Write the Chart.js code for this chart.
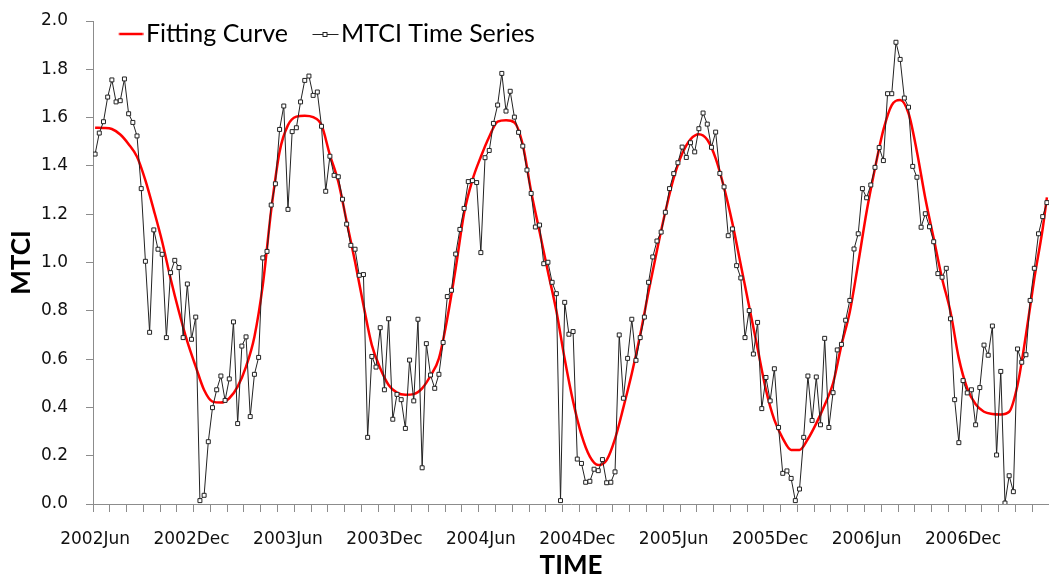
<!DOCTYPE html>
<html>
<head>
<meta charset="utf-8">
<script src="https://cdn.jsdelivr.net/npm/chart.js@4.4.1/dist/chart.umd.min.js"></script>
<style>
  html, body { margin: 0; padding: 0; background: #ffffff; }
  #wrap { width: 1049px; height: 579px; position: relative; }
</style>
</head>
<body>
<div id="wrap"><canvas id="c" width="1049" height="579"></canvas></div>
<script>
// ---------------- DATA ----------------
// MTCI 8-day composite time series, starting 2002Jun
const mtciValues = [
  1.449, 1.536, 1.583, 1.685, 1.756, 1.665, 1.670, 1.760, 1.616, 1.580,
  1.524, 1.306, 1.005, 0.711, 1.135, 1.055, 1.034, 0.689, 0.958, 1.009,
  0.979, 0.689, 0.911, 0.682, 0.774, 0.014, 0.036, 0.258, 0.399, 0.473,
  0.530, 0.429, 0.518, 0.754, 0.333, 0.654, 0.692, 0.362, 0.537, 0.607,
  1.019, 1.046, 1.238, 1.326, 1.551, 1.648, 1.220, 1.542, 1.558, 1.665,
  1.754, 1.772, 1.692, 1.706, 1.564, 1.295, 1.440, 1.361, 1.355, 1.262,
  1.159, 1.071, 1.055, 0.947, 0.950, 0.276, 0.611, 0.567, 0.730, 0.473,
  0.767, 0.351, 0.454, 0.432, 0.313, 0.596, 0.427, 0.765, 0.150, 0.664,
  0.534, 0.479, 0.537, 0.669, 0.859, 0.885, 1.035, 1.137, 1.224, 1.335,
  1.339, 1.331, 1.041, 1.434, 1.464, 1.576, 1.652, 1.783, 1.627, 1.709,
  1.602, 1.539, 1.482, 1.383, 1.286, 1.147, 1.155, 0.995, 1.001, 0.918,
  0.871, 0.014, 0.835, 0.703, 0.714, 0.186, 0.168, 0.090, 0.094, 0.144,
  0.138, 0.184, 0.088, 0.090, 0.133, 0.700, 0.438, 0.603, 0.765, 0.595,
  0.689, 0.774, 0.918, 1.023, 1.089, 1.126, 1.208, 1.306, 1.368, 1.413,
  1.478, 1.435, 1.496, 1.458, 1.554, 1.619, 1.573, 1.477, 1.540, 1.369,
  1.313, 1.111, 1.139, 0.987, 0.936, 0.689, 0.801, 0.621, 0.752, 0.395,
  0.524, 0.427, 0.560, 0.317, 0.127, 0.137, 0.106, 0.014, 0.062, 0.276,
  0.530, 0.346, 0.526, 0.328, 0.686, 0.317, 0.461, 0.638, 0.661, 0.761,
  0.843, 1.056, 1.119, 1.306, 1.268, 1.321, 1.394, 1.476, 1.422, 1.699,
  1.699, 1.912, 1.841, 1.681, 1.643, 1.398, 1.353, 1.146, 1.202, 1.148,
  1.086, 0.954, 0.939, 0.976, 0.767, 0.432, 0.254, 0.511, 0.460, 0.473,
  0.328, 0.482, 0.658, 0.616, 0.737, 0.203, 0.549, 0.004, 0.117, 0.051,
  0.642, 0.587, 0.618, 0.843, 0.976, 1.119, 1.190, 1.248
];

// Fitting curve, read at composite indices
const fitIndex = [
  0, 2, 4, 6, 8, 10, 12, 14, 16, 18, 20, 22, 24, 26, 28, 30, 32, 34, 36, 38,
  40, 42, 44, 46, 48, 50, 52, 54, 56, 58, 60, 62, 64, 66, 68, 70, 72, 74, 76, 78,
  80, 82, 84, 86, 88, 90, 92, 94, 96, 98, 100, 102, 104, 106, 108, 110, 112, 114, 116, 118,
  120, 122, 124, 126, 128, 130, 132, 134, 136, 138, 140, 142, 144, 146, 148, 150, 152, 154, 156, 158,
  160, 162, 164, 166, 168, 170, 172, 174, 176, 178, 180, 182, 184, 186, 188, 190, 192, 194, 196, 198,
  200, 202, 204, 206, 208, 210, 212, 214, 216, 218, 220, 222, 224, 226, 227
];
const fitValues = [
  1.558, 1.557, 1.553, 1.530, 1.490, 1.438, 1.340, 1.217, 1.086, 0.934,
  0.796, 0.672, 0.569, 0.472, 0.424, 0.420, 0.438, 0.486, 0.569, 0.693,
  0.907, 1.217, 1.459, 1.569, 1.604, 1.608, 1.602, 1.569, 1.445, 1.335,
  1.169, 1.003, 0.824, 0.658, 0.562, 0.493, 0.461, 0.452, 0.455, 0.479,
  0.531, 0.603, 0.769, 0.976, 1.204, 1.342, 1.438, 1.521, 1.583, 1.589,
  1.580, 1.487, 1.293, 1.128, 0.962, 0.800, 0.600, 0.424, 0.286, 0.196,
  0.161, 0.182, 0.270, 0.400, 0.540, 0.700, 0.880, 1.050, 1.210, 1.350,
  1.450, 1.510, 1.531, 1.508, 1.431, 1.310, 1.162, 0.990, 0.817, 0.645,
  0.472, 0.348, 0.272, 0.224, 0.224, 0.269, 0.334, 0.410, 0.500, 0.658,
  0.796, 0.997, 1.210, 1.390, 1.549, 1.652, 1.673, 1.618, 1.459, 1.266,
  1.100, 0.934, 0.796, 0.603, 0.479, 0.413, 0.382, 0.373, 0.371, 0.382,
  0.493, 0.700, 0.934, 1.141, 1.270
];

// Axis labels
const periodLabels = ['2002Jun', '2002Dec', '2003Jun', '2003Dec', '2004Jun',
                      '2004Dec', '2005Jun', '2005Dec', '2006Jun', '2006Dec'];
const COMPOSITES_PER_HALF_YEAR = 23;
const COMPOSITES_PER_TICK = 4;
const yTickStep = 0.2;
const yMin = 0, yMax = 2.0;
const seriesNames = ['Fitting Curve', 'MTCI Time Series'];

// ---------------- LEGEND SAMPLES ----------------
function makeRedSample() {
  const c = document.createElement('canvas');
  c.width = 26; c.height = 8;
  const g = c.getContext('2d');
  g.strokeStyle = '#ff0000'; g.lineWidth = 2.5;
  g.beginPath(); g.moveTo(1.5, 4); g.lineTo(25.5, 4); g.stroke();
  return c;
}
function makeBlackSample() {
  const c = document.createElement('canvas');
  c.width = 28; c.height = 8;
  const g = c.getContext('2d');
  g.strokeStyle = '#222'; g.lineWidth = 1;
  g.beginPath(); g.moveTo(1, 4.5); g.lineTo(27, 4.5); g.stroke();
  g.fillStyle = '#fff'; g.fillRect(11.5, 2.5, 4, 4);
  g.strokeRect(11.5, 2.5, 4, 4);
  return c;
}
const redSample = makeRedSample();
const blackSample = makeBlackSample();

const LEGEND_FONT = { family: 'Lato', size: 25 };
const LEGEND_FIRST_X = 127.5;
const LEGEND_SECOND_X = 322.5;
const LEGEND_TEXT_CY = 34;
const LEGEND_BOXW = 6;

// compute legend spacing from the measured text width
const mctx = document.createElement('canvas').getContext('2d');
mctx.font = LEGEND_FONT.size + 'px ' + LEGEND_FONT.family;
const w1 = mctx.measureText(seriesNames[0]).width;
const legendPad = LEGEND_SECOND_X - (LEGEND_FIRST_X + LEGEND_BOXW + LEGEND_FONT.size / 2 + w1);

const legendInPlot = {
  id: 'legendInPlot',
  afterLayout(chart) {
    const lg = chart.legend;
    if (!lg) return;
    const w = lg.width;
    lg.left = LEGEND_FIRST_X - legendPad;
    lg.right = lg.left + w;
    lg.top = LEGEND_TEXT_CY - LEGEND_FONT.size / 2 - legendPad;
    lg.bottom = LEGEND_TEXT_CY + LEGEND_FONT.size;   // drawing clip box
  }
};

// ---------------- CHART ----------------
const N = mtciValues.length;
const mtciPoints = mtciValues.map((v, i) => ({ x: i, y: v }));
const fitPoints = fitIndex.map((x, k) => ({ x: x, y: fitValues[k] }));

const axisGray = '#8c8c8c';
const tickFont = { family: 'DejaVu Sans', size: 17 };
const titleFont = { family: 'Lato', size: 26, weight: 'bold', lineHeight: 1.0 };

new Chart(document.getElementById('c'), {
  type: 'line',
  data: {
    datasets: [
      {
        label: seriesNames[1],
        data: mtciPoints,
        borderColor: '#222222',
        borderWidth: 1,
        pointStyle: 'rect',
        pointRadius: 2.8,
        pointBackgroundColor: '#ffffff',
        pointBorderColor: '#222222',
        pointBorderWidth: 1,
        tension: 0,
        order: 1
      },
      {
        label: seriesNames[0],
        data: fitPoints,
        borderColor: '#ff0000',
        borderWidth: 2.5,
        pointRadius: 0,
        cubicInterpolationMode: 'monotone',
        order: 2
      }
    ]
  },
  options: {
    responsive: false,
    animation: false,
    devicePixelRatio: 1,
    layout: { autoPadding: false, padding: { top: 20, right: 0, bottom: 0, left: 0 } },
    plugins: {
      tooltip: { enabled: false },
      legend: {
        display: true,
        position: 'top',
        align: 'start',
        maxHeight: 1,
        labels: {
          usePointStyle: true,
          pointStyleWidth: LEGEND_BOXW,
          boxHeight: 8,
          padding: legendPad,
          font: LEGEND_FONT,
          color: '#000000',
          generateLabels: () => [
            { text: seriesNames[0], pointStyle: redSample, fontColor: '#000', lineWidth: 0, hidden: false, datasetIndex: 1 },
            { text: seriesNames[1], pointStyle: blackSample, fontColor: '#000', lineWidth: 0, hidden: false, datasetIndex: 0 }
          ]
        }
      }
    },
    scales: {
      x: {
        type: 'linear',
        min: -0.5,
        max: N - 0.5,
        afterBuildTicks: (scale) => {
          const t = [];
          for (let v = -0.5; v <= N - 0.5 + 1e-9; v += COMPOSITES_PER_TICK) t.push({ value: v, lbl: '' });
          periodLabels.forEach((lab, k) => t.push({ value: k * COMPOSITES_PER_HALF_YEAR, lbl: lab }));
          t.sort((a, b) => a.value - b.value);
          scale.ticks = t;
        },
        afterFit: (scale) => { scale.height = 75; scale.paddingLeft = 0; scale.paddingRight = 0; },
        ticks: {
          autoSkip: false,
          maxRotation: 0,
          minRotation: 0,
          padding: 17,
          font: tickFont,
          color: '#111111',
          callback: (v, i, ticks) => ticks[i].lbl
        },
        grid: {
          drawOnChartArea: false,
          drawTicks: true,
          tickLength: 8,
          tickWidth: 1,
          tickColor: (ctx) => (ctx.tick && ctx.tick.lbl) ? 'rgba(0,0,0,0)' : axisGray
        },
        border: { display: true, color: axisGray, width: 1 },
        title: {
          display: true,
          text: 'TIME',
          font: titleFont,
          color: '#000000',
          padding: { top: 0, bottom: 0 }
        }
      },
      y: {
        type: 'linear',
        min: yMin,
        max: yMax,
        afterFit: (scale) => { scale.width = 93; scale.paddingTop = 0; scale.paddingBottom = 0; },
        ticks: {
          stepSize: yTickStep,
          padding: 18,
          font: tickFont,
          color: '#111111',
          callback: (v) => Number(v).toFixed(1)
        },
        grid: {
          drawOnChartArea: false,
          drawTicks: true,
          tickLength: 7,
          tickWidth: 1,
          tickColor: axisGray
        },
        border: { display: true, color: axisGray, width: 1 },
        title: {
          display: true,
          text: 'MTCI',
          font: titleFont,
          color: '#000000',
          padding: { top: 9, bottom: 0 }
        }
      }
    }
  },
  plugins: [legendInPlot]
});
</script>
</body>
</html>
